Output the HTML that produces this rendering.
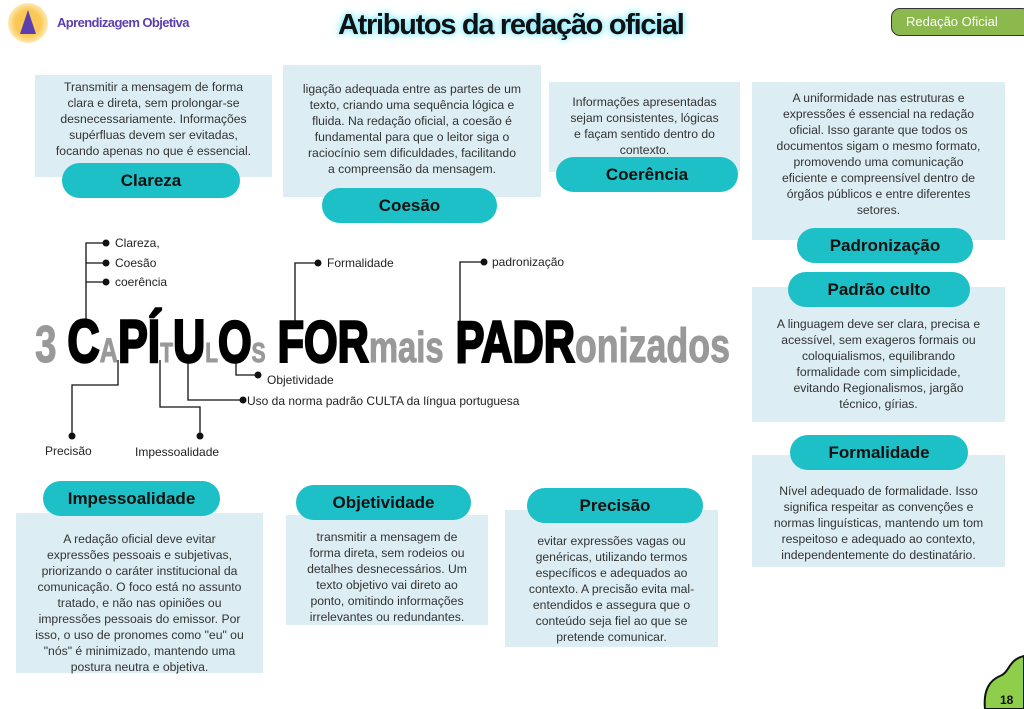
<!DOCTYPE html>
<html><head><meta charset="utf-8"><style>
*{margin:0;padding:0;box-sizing:border-box}
body{width:1024px;height:709px;background:#fff;position:relative;overflow:hidden;font-family:"Liberation Sans",sans-serif}
.box{position:absolute;background:#dcedf3;color:#333;font-size:12.2px;line-height:16px;text-align:center;white-space:nowrap}
.pill{position:absolute;background:#1cc0c6;border-radius:18px;color:#111;font-weight:bold;font-size:17px;text-align:center;line-height:35px;height:35px}
</style></head><body>
<div style="position:absolute;left:8px;top:3px;width:40px;height:40px;border-radius:50%;background:radial-gradient(#f9c856 45%,#fde9b0 70%,#fff 100%)"></div>
<div style="position:absolute;left:20px;top:10px;width:0;height:0;border-left:8px solid transparent;border-right:8px solid transparent;border-bottom:24px solid #5a3fb0"></div>
<div style="position:absolute;left:57px;top:15px;font-size:13px;font-weight:bold;color:#5a3fb0;letter-spacing:-0.6px">Aprendizagem Objetiva</div>
<div style="position:absolute;left:338px;top:9px;font-size:29px;font-weight:bold;color:#111;letter-spacing:-1.3px;text-shadow:0 0 6px #6fe6ff,0 0 10px #9ef0ff">Atributos da redação oficial</div>
<div style="position:absolute;left:891px;top:8px;width:140px;height:28px;background:#8bb94e;border:1px solid #333;border-radius:9px;color:#fff;font-size:13px;line-height:26px;padding-left:14px">Redação Oficial</div>

<div class="box" style="left:35px;top:75px;width:237px;height:102px;padding-top:4px">Transmitir a mensagem de forma<br>clara e direta, sem prolongar-se<br>desnecessariamente. Informações<br>supérfluas devem ser evitadas,<br>focando apenas no que é essencial.</div>
<div class="pill" style="left:62px;top:163px;width:178px">Clareza</div>

<div class="box" style="left:283px;top:65px;width:258px;height:132px;padding-top:16px">ligação adequada entre as partes de um<br>texto, criando uma sequência lógica e<br>fluida. Na redação oficial, a coesão é<br>fundamental para que o leitor siga o<br>raciocínio sem dificuldades, facilitando<br>a compreensão da mensagem.</div>
<div class="pill" style="left:322px;top:188px;width:175px">Coesão</div>

<div class="box" style="left:549px;top:82px;width:191px;height:90px;padding-top:12px">Informações apresentadas<br>sejam consistentes, lógicas<br>e façam sentido dentro do<br>contexto.</div>
<div class="pill" style="left:556px;top:157px;width:182px">Coerência</div>

<div class="box" style="left:752px;top:82px;width:253px;height:158px;padding-top:8px">A uniformidade nas estruturas e<br>expressões é essencial na redação<br>oficial. Isso garante que todos os<br>documentos sigam o mesmo formato,<br>promovendo uma comunicação<br>eficiente e compreensível dentro de<br>órgãos públicos e entre diferentes<br>setores.</div>
<div class="pill" style="left:797px;top:228px;width:176px">Padronização</div>

<div class="box" style="left:752px;top:287px;width:253px;height:135px;padding-top:29px">A linguagem deve ser clara, precisa e<br>acessível, sem exageros formais ou<br>coloquialismos, equilibrando<br>formalidade com simplicidade,<br>evitando Regionalismos, jargão<br>técnico, gírias.</div>
<div class="pill" style="left:788px;top:272px;width:182px">Padrão culto</div>

<div class="box" style="left:752px;top:455px;width:253px;height:112px;padding-top:28px">Nível adequado de formalidade. Isso<br>significa respeitar as convenções e<br>normas linguísticas, mantendo um tom<br>respeitoso e adequado ao contexto,<br>independentemente do destinatário.</div>
<div class="pill" style="left:790px;top:435px;width:178px">Formalidade</div>

<div class="box" style="left:16px;top:513px;width:247px;height:160px;padding-top:18px">A redação oficial deve evitar<br>expressões pessoais e subjetivas,<br>priorizando o caráter institucional da<br>comunicação. O foco está no assunto<br>tratado, e não nas opiniões ou<br>impressões pessoais do emissor. Por<br>isso, o uso de pronomes como "eu" ou<br>"nós" é minimizado, mantendo uma<br>postura neutra e objetiva.</div>
<div class="pill" style="left:43px;top:481px;width:177px">Impessoalidade</div>

<div class="box" style="left:286px;top:515px;width:202px;height:110px;padding-top:14px">transmitir a mensagem de<br>forma direta, sem rodeios ou<br>detalhes desnecessários. Um<br>texto objetivo vai direto ao<br>ponto, omitindo informações<br>irrelevantes ou redundantes.</div>
<div class="pill" style="left:296px;top:485px;width:175px">Objetividade</div>

<div class="box" style="left:505px;top:510px;width:213px;height:137px;padding-top:23px">evitar expressões vagas ou<br>genéricas, utilizando termos<br>específicos e adequados ao<br>contexto. A precisão evita mal-<br>entendidos e assegura que o<br>conteúdo seja fiel ao que se<br>pretende comunicar.</div>
<div class="pill" style="left:527px;top:488px;width:176px">Precisão</div>

<svg style="position:absolute;left:0;top:0" width="1024" height="709">
<g stroke="#111" stroke-width="1.3" fill="none">
<path d="M86 322V243H106M86 263H106M86 282H106"/>
<path d="M295 325V263H318"/>
<path d="M460 322V262H484"/>
<path d="M236 360V375H258"/>
<path d="M188 360V400H243"/>
<path d="M118 360V385H72V436"/>
<path d="M160 360V407H200V436"/>
</g>
<g fill="#111">
<circle cx="106" cy="243" r="3.5"/><circle cx="106" cy="263" r="3.5"/><circle cx="106" cy="282" r="3.5"/>
<circle cx="318" cy="263" r="3.5"/><circle cx="484" cy="262" r="3.5"/>
<circle cx="258" cy="375" r="3.5"/><circle cx="243" cy="400" r="3.5"/>
<circle cx="72" cy="436" r="3.5"/><circle cx="200" cy="436" r="3.5"/>
</g>
<text x="35" y="362" textLength="695" lengthAdjust="spacingAndGlyphs" font-family="Liberation Sans" font-weight="bold" font-size="52" fill="#999" stroke="#999" stroke-width="1"><tspan>3 </tspan><tspan fill="#000" stroke="#000" stroke-width="2.5" font-size="60">C</tspan><tspan font-size="34">A</tspan><tspan fill="#000" stroke="#000" stroke-width="2.5" font-size="60">PÍ</tspan><tspan font-size="28">T</tspan><tspan fill="#000" stroke="#000" stroke-width="2.5" font-size="60">U</tspan><tspan font-size="28">L</tspan><tspan fill="#000" stroke="#000" stroke-width="2.5" font-size="58">O</tspan><tspan font-size="28">S</tspan><tspan fill="#000" stroke="#000" stroke-width="2.5" font-size="58"> FOR</tspan><tspan font-size="44">mais</tspan><tspan fill="#000" stroke="#000" stroke-width="2.5" font-size="58"> PADR</tspan><tspan font-size="48">onizados</tspan></text>
<g font-family="Liberation Sans" font-size="12" fill="#222">
<text x="115" y="247">Clareza,</text><text x="115" y="267">Coesão</text><text x="115" y="286">coerência</text>
<text x="327" y="267">Formalidade</text><text x="492" y="266">padronização</text>
<text x="267" y="384">Objetividade</text><text x="247" y="405">Uso da norma padrão CULTA da língua portuguesa</text>
<text x="45" y="455">Precisão</text><text x="135" y="456">Impessoalidade</text>
</g>
<path d="M985 709C983 690 990 680 1000 676C1010 672 1008 660 1024 656V709Z" fill="#8fce4a" stroke="#111" stroke-width="2"/>
<text x="1000" y="704" font-family="Liberation Sans" font-weight="bold" font-size="12" fill="#111">18</text>
</svg>
</body></html>
